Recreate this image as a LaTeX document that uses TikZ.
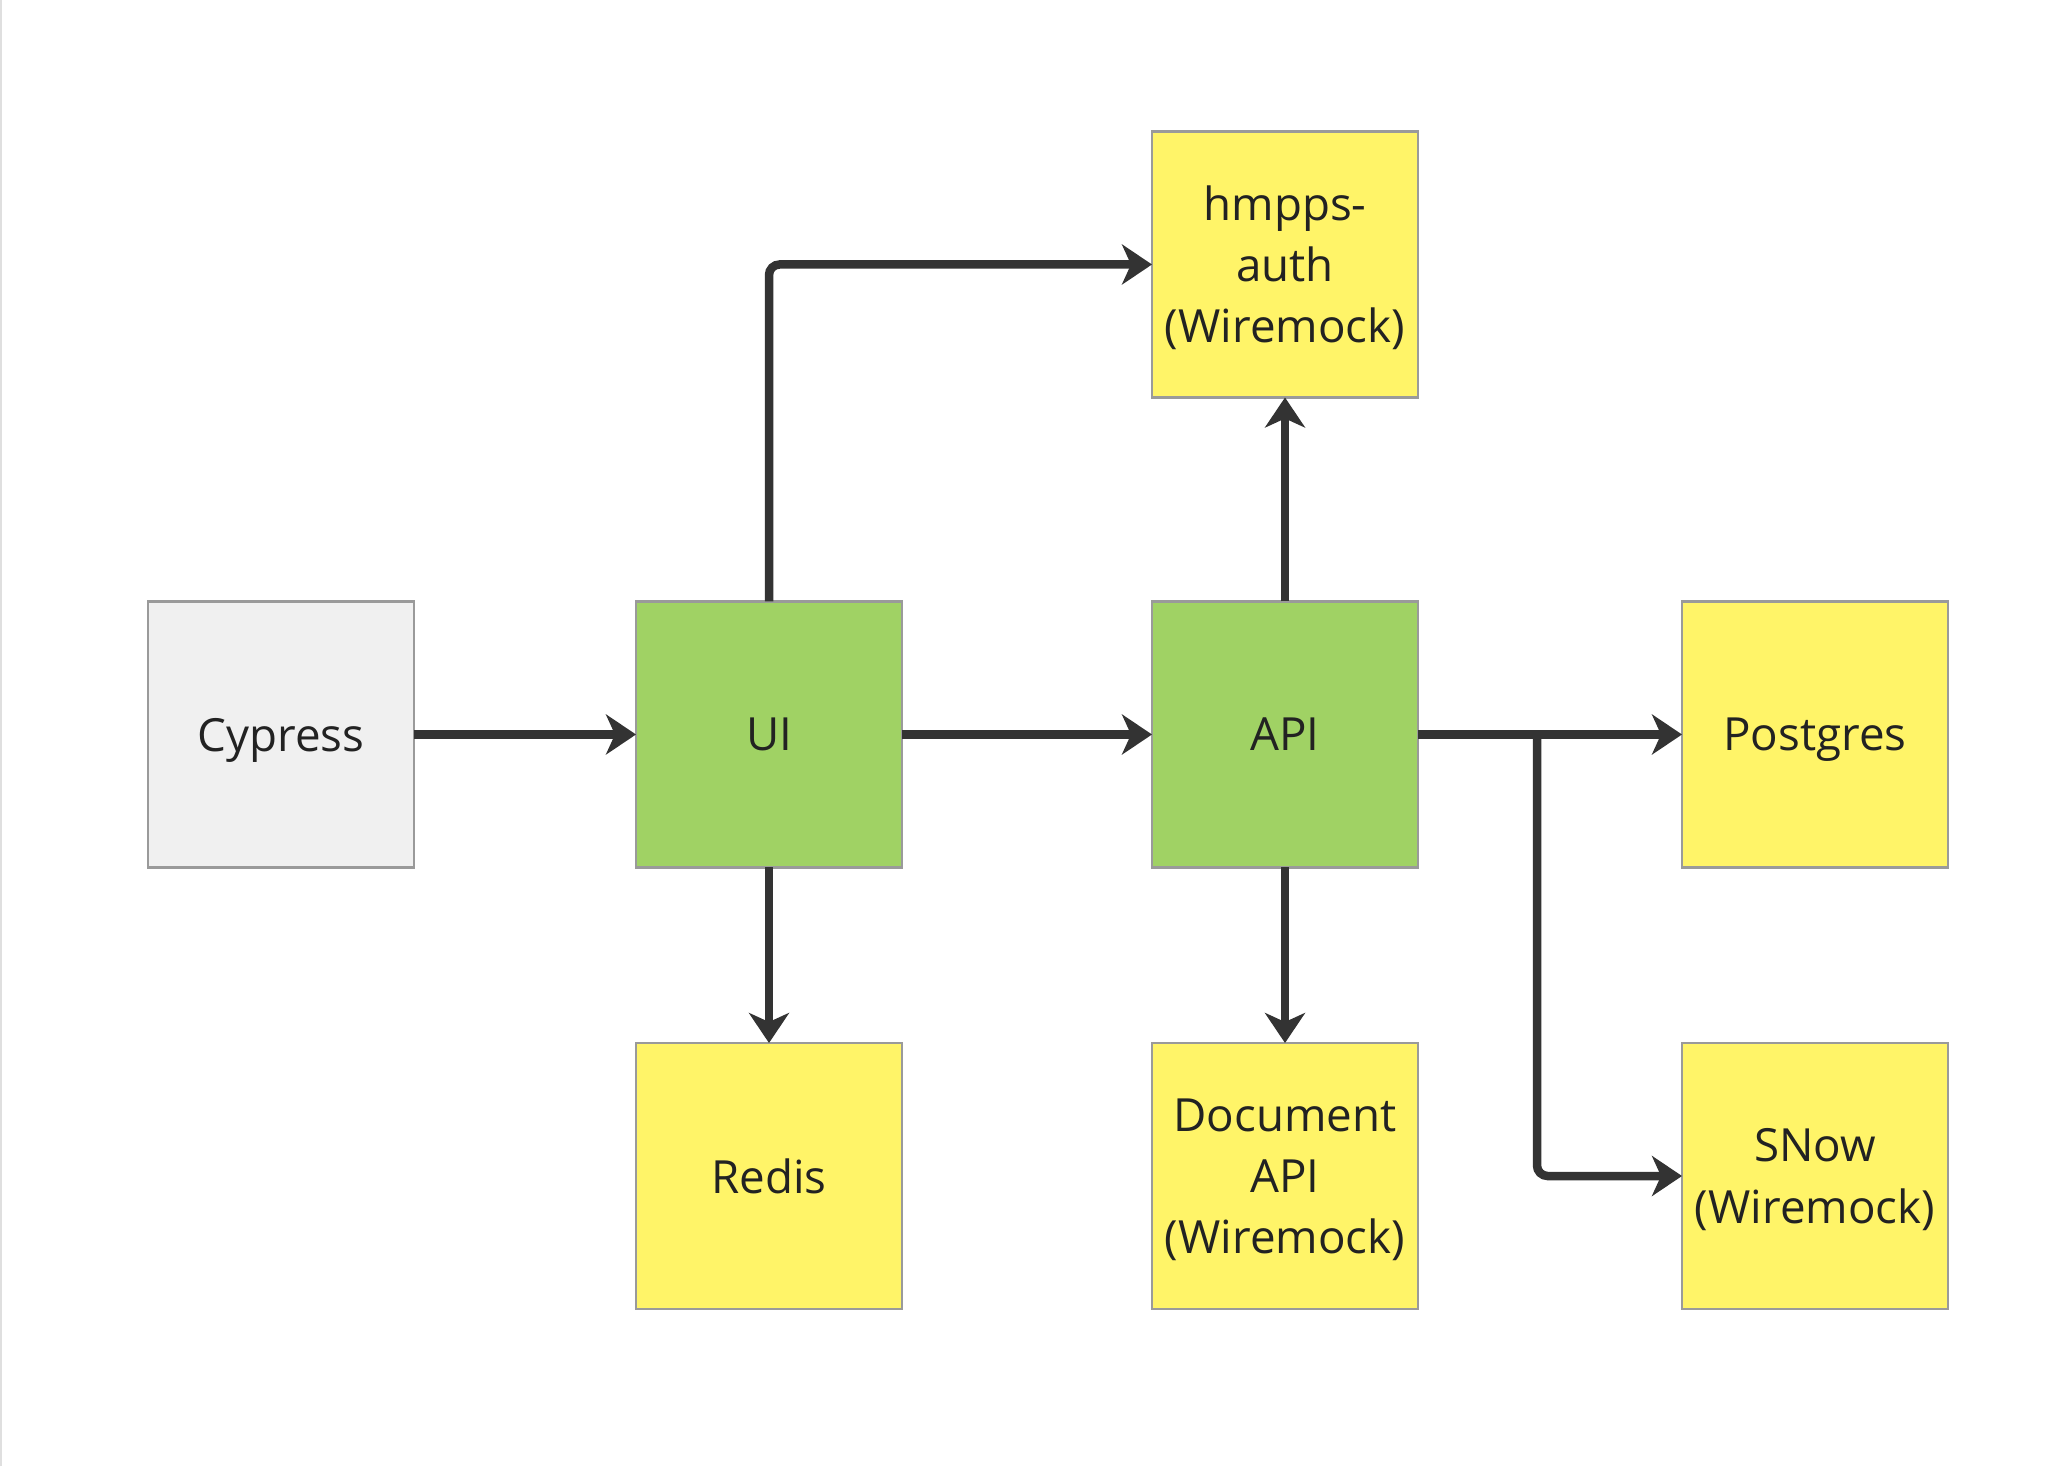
\documentclass[tikz,border=0pt]{standalone}
\usepackage{fontspec}
\setmainfont{Open Sans}
\usetikzlibrary{arrows.meta}
\definecolor{boxyellow}{HTML}{FFF468}
\definecolor{boxgreen}{HTML}{A0D264}
\definecolor{boxgray}{HTML}{F0F0F0}
\definecolor{boxborder}{HTML}{9A9A9A}
\definecolor{linecol}{HTML}{333333}
\definecolor{txtcol}{HTML}{222222}
\tikzset{
  basebox/.style={draw=boxborder, line width=0.6pt, minimum width=2.66cm, minimum height=2.66cm,
    inner sep=0pt, outer sep=0pt, align=center, text=txtcol, text depth=0pt,
    font=\fontsize{13}{17.4}\selectfont},
  ybox/.style={basebox, fill=boxyellow},
  gbox/.style={basebox, fill=boxgreen},
  wbox/.style={basebox, fill=boxgray},
  conn/.style={draw=linecol, line width=0.085cm, rounded corners=3pt,
    -{Stealth[length=0.30cm, width=0.40cm, inset=0.09cm]}}
}
\begin{document}
\begin{tikzpicture}
\useasboundingbox (0,0) rectangle (20.58,14.66);
\fill[white] (0,0) rectangle (20.58,14.66);
\draw[gray!25, line width=0.02cm] (0.01,0) -- (0.01,14.66);

\node[wbox] (cy) at (2.81,7.315) {Cypress};
\node[gbox] (ui) at (7.69,7.315) {UI};
\node[gbox] (api) at (12.85,7.315) {API};
\node[ybox] (pg) at (18.15,7.315) {Postgres};
\node[ybox] (auth) at (12.85,12.015) {hmpps-\\auth\\(Wiremock)};
\node[ybox] (redis) at (7.69,2.90) {Redis};
\node[ybox] (doc) at (12.85,2.90) {Document\\API\\(Wiremock)};
\node[ybox] (snow) at (18.15,2.90) {SNow\\(Wiremock)};

\coordinate (j) at (15.37,7.315);

\draw[conn] (cy.east) -- (ui.west);
\draw[conn] (ui.east) -- (api.west);
\draw[conn] (ui.north) |- (auth.west);
\draw[conn] (api.north) -- (auth.south);
\draw[conn] (ui.south) -- (redis.north);
\draw[conn] (api.south) -- (doc.north);
\draw[conn] (api.east) -- (pg.west);
\draw[conn] (j) |- (snow.west);
\end{tikzpicture}
\end{document}
